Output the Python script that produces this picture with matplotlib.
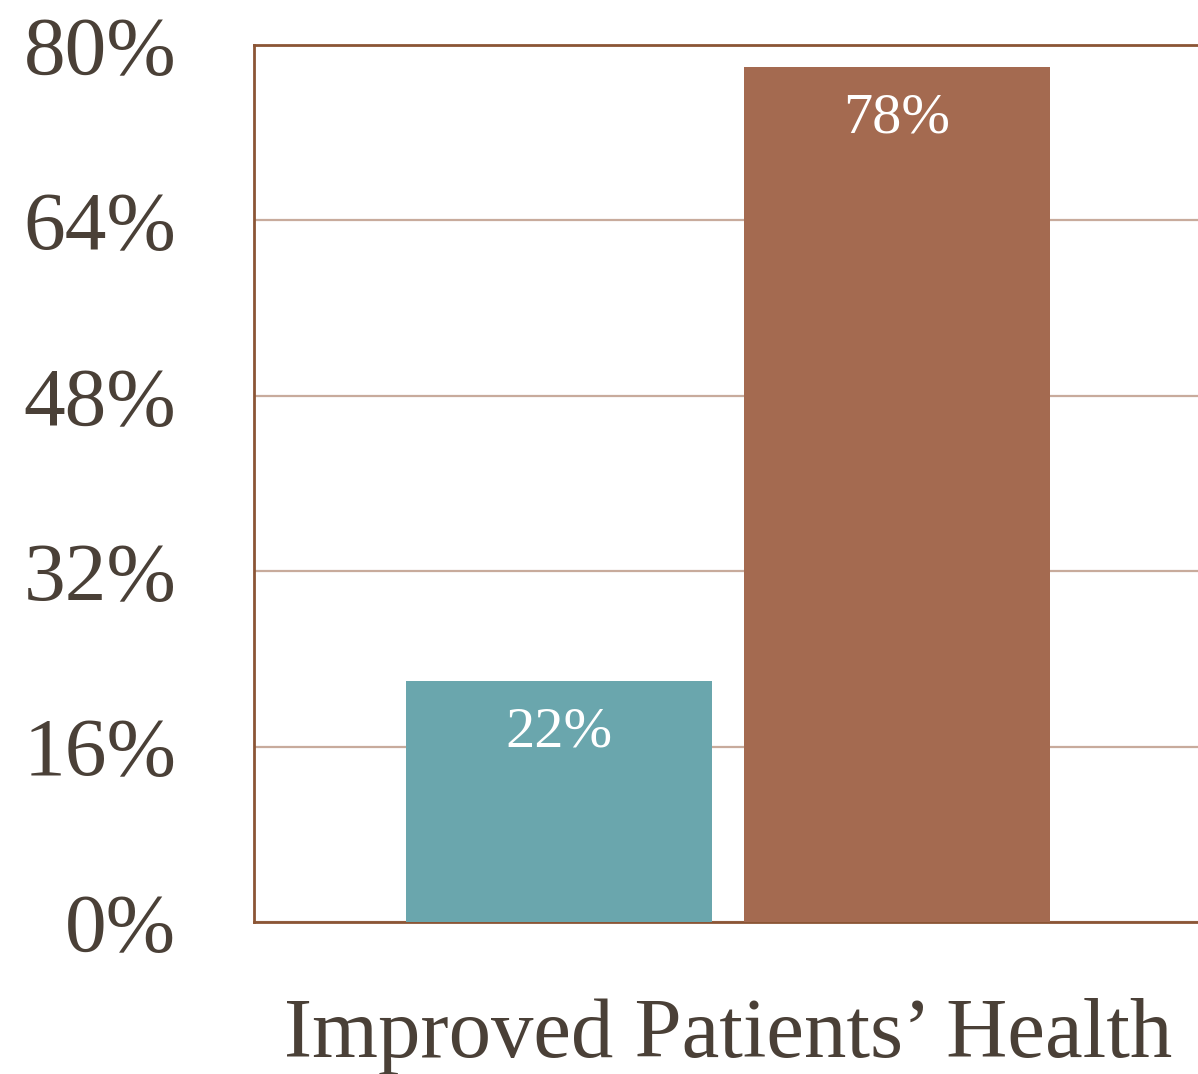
import matplotlib
matplotlib.use("Agg")
import matplotlib.pyplot as plt

categories = ["Improved Patients\u2019 Health"]
series_a = [22]   # teal bar
series_b = [78]   # brown bar
y_ticks = [0, 16, 32, 48, 64, 80]
y_tick_labels = ["0%", "16%", "32%", "48%", "64%", "80%"]

teal = "#6aa6ad"
brown = "#a46a50"
text_col = "#4a4037"
spine_col = "#8b5535"
grid_col = "#c8ab9c"

fig = plt.figure(figsize=(11.98, 10.74), dpi=100)
ax = fig.add_axes([254/1198, 1 - 922/1074, (1202-254)/1198, (922-45)/1074])

w = 0.905
x0 = 0
ax.bar([x0 - 0.5], series_a, width=w, color=teal, zorder=3)
ax.bar([x0 + 0.5], series_b, width=w, color=brown, zorder=3)

for xv, v in [(x0 - 0.5, series_a[0]), (x0 + 0.5, series_b[0])]:
    ax.text(xv, v - 2.3, f"{v}%", ha="center", va="top", color="white",
            fontsize=42, family="Liberation Serif", zorder=4)

ax.set_ylim(0, 80)
ax.set_xlim(-1.402, 1.402)
ax.set_yticks(y_ticks)
ax.set_yticklabels(y_tick_labels)
ax.set_xticks([x0])
ax.set_xticklabels(categories)
ax.tick_params(axis="y", length=0, pad=56, labelsize=60, labelcolor=text_col)
ax.tick_params(axis="x", length=0, pad=55, labelsize=61, labelcolor=text_col)
for lab in ax.get_xticklabels() + ax.get_yticklabels():
    lab.set_family("Liberation Serif")

ax.yaxis.grid(True, color=grid_col, linewidth=1.6, zorder=1)
ax.set_axisbelow(True)
for s in ["left", "bottom", "top"]:
    ax.spines[s].set_color(spine_col)
    ax.spines[s].set_linewidth(2.0)
ax.spines["right"].set_visible(False)

fig.savefig("out.png", dpi=100, facecolor="white")
